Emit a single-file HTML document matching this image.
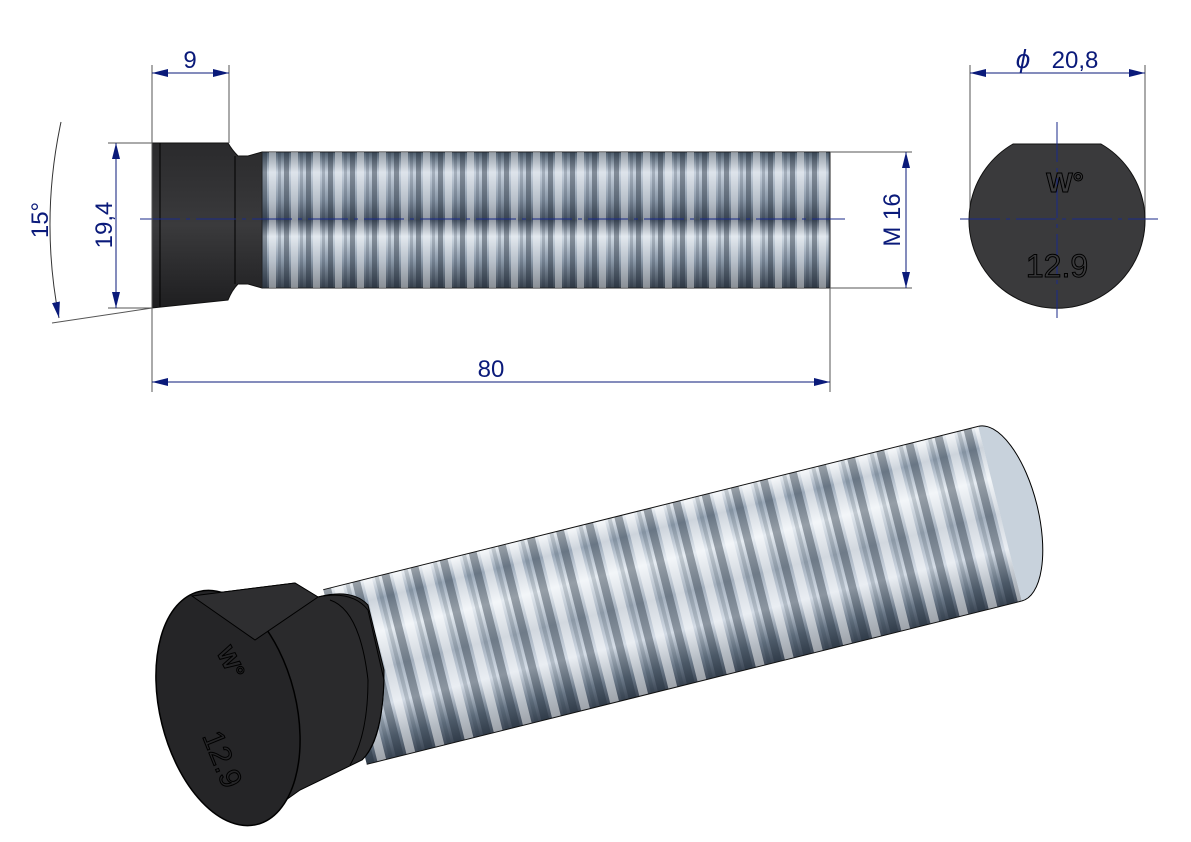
<!DOCTYPE html>
<html><head><meta charset="utf-8"><style>
html,body{margin:0;padding:0;background:#fff;}
svg{display:block;font-family:"Liberation Sans",sans-serif;}
</style></head><body>
<svg width="1191" height="842" viewBox="0 0 1191 842" xmlns="http://www.w3.org/2000/svg">
<defs>
<linearGradient id="vthr" x1="0" y1="0" x2="0" y2="1">
<stop offset="0" stop-color="#4a5a6a"/><stop offset="0.15" stop-color="#c8d2de"/><stop offset="0.35" stop-color="#8a98a8"/><stop offset="0.5" stop-color="#4a5666"/><stop offset="0.62" stop-color="#d0dae4"/><stop offset="0.8" stop-color="#8a98a8"/><stop offset="1" stop-color="#3a4450"/>
</linearGradient>
<pattern id="hthr" width="22" height="200" patternUnits="userSpaceOnUse" x="262">
<rect x="0" width="5" height="200" fill="#1a2430" fill-opacity="0.4"/>
<rect x="7" width="7" height="200" fill="#ffffff" fill-opacity="0.4"/>
<rect x="16" width="3" height="200" fill="#1a2430" fill-opacity="0.2"/>
</pattern>
<linearGradient id="head" x1="0" y1="0" x2="0" y2="1">
<stop offset="0" stop-color="#2a2a2c"/><stop offset="0.5" stop-color="#3a3a3c"/><stop offset="1" stop-color="#1e1e20"/>
</linearGradient>
<linearGradient id="v3d" x1="0" y1="0" x2="0" y2="1">
<stop offset="0" stop-color="#eef2f6"/><stop offset="0.12" stop-color="#9aa8b8"/><stop offset="0.3" stop-color="#e6ecf2"/><stop offset="0.5" stop-color="#a4b0be"/><stop offset="0.7" stop-color="#d4dce6"/><stop offset="0.88" stop-color="#6a7888"/><stop offset="1" stop-color="#3c4654"/>
</linearGradient>
<pattern id="h3d" width="30" height="300" patternUnits="userSpaceOnUse">
<rect x="0" width="8" height="300" fill="#1e2a38" fill-opacity="0.4"/>
<rect x="11" width="9" height="300" fill="#ffffff" fill-opacity="0.5"/>
<rect x="23" width="4" height="300" fill="#1e2a38" fill-opacity="0.18"/>
</pattern>
<marker id="ar" markerWidth="16" markerHeight="8" refX="16" refY="4" orient="auto-start-reverse" markerUnits="userSpaceOnUse"><path d="M0,0 L16,4 L0,8z" fill="#0a1a7a"/></marker>
</defs>

<!-- side view -->
<path d="M152,143 L228,143 Q232,150 238,156 L248,156 L262,152 L262,288 L248,284 L238,284 Q232,290 228,300 L152,308 Z" fill="url(#head)" stroke="#111"/>
<line x1="160" y1="143" x2="160" y2="307" stroke="#000" stroke-width="1"/>
<line x1="235" y1="156" x2="235" y2="284" stroke="#000" stroke-width="1"/>
<rect x="262" y="152" width="568" height="136" fill="url(#vthr)" stroke="#222"/>
<rect x="262" y="152" width="568" height="136" fill="url(#hthr)"/>
<line x1="140" y1="219" x2="845" y2="219" stroke="#1a2a8a" stroke-width="1" stroke-dasharray="40,6,4,6"/>

<g stroke="#555" stroke-width="1" fill="none">
<line x1="152" y1="65" x2="152" y2="392"/>
<line x1="229" y1="65" x2="229" y2="143"/>
<line x1="108" y1="143" x2="152" y2="143"/>
<line x1="108" y1="308" x2="152" y2="308"/>
<line x1="830" y1="288" x2="830" y2="392"/>
<line x1="830" y1="152" x2="912" y2="152"/>
<line x1="830" y1="288" x2="912" y2="288"/>
<line x1="970" y1="65" x2="970" y2="220"/>
<line x1="1145" y1="65" x2="1145" y2="220"/>
<line x1="152" y1="308" x2="52" y2="323"/>
</g>
<g stroke="#0a1a7a" stroke-width="1" fill="none">
<line x1="152" y1="73" x2="229" y2="73" marker-start="url(#ar)" marker-end="url(#ar)"/>
<line x1="116" y1="143" x2="116" y2="308" marker-start="url(#ar)" marker-end="url(#ar)"/>
<line x1="906" y1="152" x2="906" y2="288" marker-start="url(#ar)" marker-end="url(#ar)"/>
<line x1="152" y1="382" x2="830" y2="382" marker-start="url(#ar)" marker-end="url(#ar)"/>
<line x1="970" y1="73" x2="1145" y2="73" marker-start="url(#ar)" marker-end="url(#ar)"/>
<path d="M61,122 Q40,220 59,318" marker-end="url(#ar)" stroke="#333"/>
</g>
<g fill="#0a1a7a" font-size="24">
<text x="190" y="68" text-anchor="middle">9</text>
<text x="491" y="377" text-anchor="middle">80</text>
<text x="1075" y="68" text-anchor="middle">20,8</text>
<text x="1023" y="68" text-anchor="middle" font-style="italic" font-size="26">ϕ</text>
<text transform="translate(112,225) rotate(-90)" text-anchor="middle">19,4</text>
<text transform="translate(900,220) rotate(-90)" text-anchor="middle">M 16</text>
<text transform="translate(48,220) rotate(-90)" text-anchor="middle">15°</text>
</g>

<!-- end view -->
<path d="M1013,144 L1101,144 A88,88 0 1 1 1013,144 Z" fill="#3a3a3c" stroke="#111"/>
<g stroke="#1a2a8a" stroke-width="1" stroke-dasharray="40,6,4,6">
<line x1="960" y1="219" x2="1158" y2="219"/>
<line x1="1057" y1="122" x2="1057" y2="318"/>
</g>
<text x="1065" y="192" text-anchor="middle" font-size="28" font-weight="bold" fill="none" stroke="#000" stroke-width="1">W°</text>
<text x="1057" y="277" text-anchor="middle" font-size="32" fill="#3a3a3c" stroke="#000" stroke-width="1">12.9</text>

<!-- 3D view -->
<g transform="translate(345,677) rotate(-14)">
<rect x="0" y="-90" width="675" height="180" fill="url(#v3d)"/>
<rect x="0" y="-90" width="675" height="180" fill="url(#h3d)"/>
<line x1="0" y1="-90" x2="675" y2="-90" stroke="#111"/>
<line x1="0" y1="90" x2="675" y2="90" stroke="#111"/>
<path d="M675,-90 A38,90 0 0 1 675,90" fill="#c8d2dc" stroke="#000"/>
</g>
<!-- head body -->
<path d="M192,596 L295,583 L318,597 Q352,588 368,605 L384,670 Q384,740 362,760 L300,790 L255,822 Z" fill="#2a2a2c" stroke="#000"/>
<path d="M318,597 Q352,590 368,610 L384,680 Q382,740 362,760" fill="none" stroke="#000"/>
<path d="M330,600 Q360,610 368,680 Q368,735 350,765" fill="none" stroke="#000"/>
<ellipse cx="228" cy="708" rx="68" ry="120" transform="rotate(-14 228 708)" fill="#252527" stroke="#000" stroke-width="1.5"/>
<path d="M192,596 L295,583 L318,597 L255,640 Z" fill="#2e2e30" stroke="#000"/>
<text transform="translate(216,652) rotate(62)" font-size="24" font-weight="bold" fill="none" stroke="#000">W°</text>
<text transform="translate(202,736) rotate(68)" font-size="30" fill="#252527" stroke="#000">12.9</text>
</svg>
</body></html>
